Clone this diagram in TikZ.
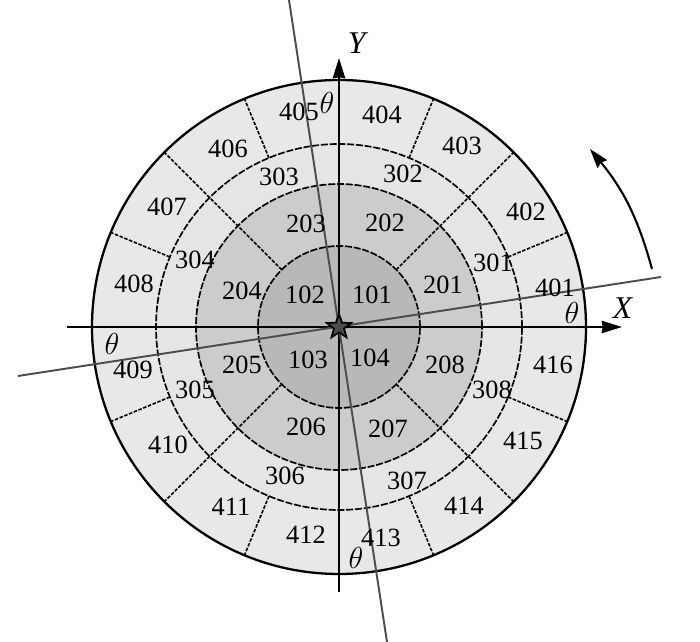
\documentclass[tikz,border=0pt]{standalone}
\usepackage{fontspec}
\setmainfont{Liberation Serif}
\usetikzlibrary{arrows.meta,shapes.geometric}
\definecolor{ringfour}{gray}{0.91}
\definecolor{ringthree}{gray}{0.90}
\definecolor{ringtwo}{gray}{0.80}
\definecolor{ringone}{gray}{0.72}
\definecolor{tilted}{gray}{0.3}
\tikzset{
    zone/.style={inner sep=0pt, font=\fontsize{15}{17}\selectfont},
    sym/.style={inner sep=0pt, font=\fontsize{18}{20}\selectfont},
    ringline/.style={line width=0.95pt, dash pattern=on 4pt off 1pt},
    divider/.style={line width=0.9pt, dash pattern=on 2pt off 0.9pt},
}
\begin{document}
\begin{tikzpicture}[x=0.02cm, y=0.02cm]

    \useasboundingbox (-339,-315) rectangle (361,327);
    \fill[white] (-339,-315) rectangle (361,327);

    % rings, outside first
    \draw[line width=1.3pt, fill=ringfour] (0,0) circle (247);
    \draw[ringline, fill=ringthree] (0,0) circle (183);
    \draw[ringline, fill=ringtwo] (0,0) circle (143);
    \draw[ringline, fill=ringone] (0,0) circle (81);

    \foreach \a in {45,135,225,315}
        \draw[divider] (\a:81) -- (\a:247);
    \foreach \a in {22.5,67.5,112.5,157.5,202.5,247.5,292.5,337.5}
        \draw[divider] (\a:183) -- (\a:247);

    \coordinate (xstart) at (-272,0);
    \coordinate (xend) at (283,0);
    \coordinate (ystart) at (0,-265);
    \coordinate (yend) at (0,269);
    \draw[line width=1.2pt, -{Stealth[length=11.5pt,width=7pt,inset=0.5pt]}] (xstart) -- (xend);
    \draw[line width=1.2pt, -{Stealth[length=11.5pt,width=7pt,inset=0.5pt]}] (ystart) -- (yend);

    \coordinate (ustart) at (-321,-49);
    \coordinate (uend) at (322,50);
    \coordinate (vstart) at (48,-315);
    \coordinate (vend) at (-50,327);
    \draw[tilted, line width=1.1pt] (ustart) -- (uend);
    \draw[tilted, line width=1.1pt] (vstart) -- (vend);

    \coordinate (turnstart) at (313,58);
    \coordinate (turnend) at (251,178);
    \draw[line width=1.2pt, -{Stealth[length=11pt,width=7pt,inset=1pt]}] (turnstart) to[bend right=12] (turnend);

    \node[star, star points=5, star point ratio=2.4, draw=black, fill=tilted, line width=1pt,
        inner sep=0pt, minimum size=14.5pt] (origin) at (0,0) {};

    % x/y are offsets from the centre
    \foreach \x/\y/\t in {33/32/101, -34/32/102, -31/-33/103, 31/-31/104,
                          104/42/201, 46/104/202, -33/103/203, -97/36/204,
                          -97/-38/205, -33/-100/206, 49/-102/207, 106/-38/208,
                          154/64/301, 64/153/302, -60/150/303, -144/67/304,
                          -144/-63/305, -54/-149/306, 68/-154/307, 153/-63/308,
                          216/39/401, 187/115/402, 123/181/403, 43/212/404,
                          -40/215/405, -111/178/406, -172/120/407, -205/43/408,
                          -206/-43/409, -171/-118/410, -108/-180/411, -33/-208/412,
                          42/-211/413, 125/-179/414, 184/-114/415, 214/-38/416}
        \node[zone] (z\t) at (\x,\y) {\t};

    \node[sym] (thetatop) at (-12,224) {$\theta$};
    \node[sym] (thetaright) at (233,14) {$\theta$};
    \node[sym] (thetaleft) at (-227,-17) {$\theta$};
    \node[sym] (thetabottom) at (17,-231) {$\theta$};
    \node[sym] (xlabel) at (284,19) {\textit{X}};
    \node[sym] (ylabel) at (19,284) {\textit{Y}};

\end{tikzpicture}
\end{document}
